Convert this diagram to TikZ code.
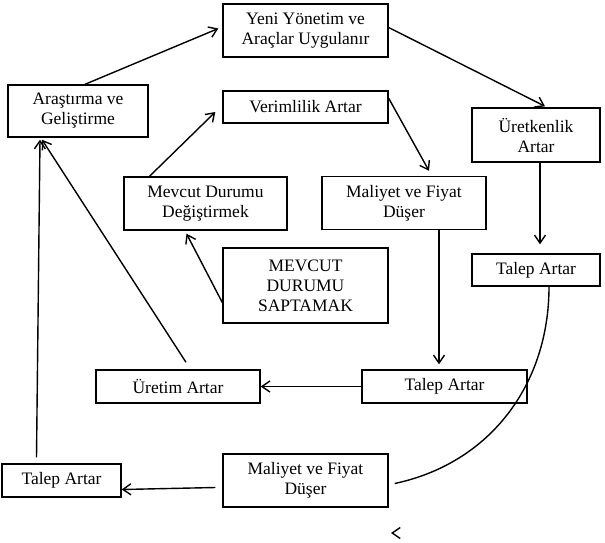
\documentclass[tikz,border=0pt]{standalone}
\usepackage{fontspec}
\setmainfont{Liberation Serif}
\usetikzlibrary{arrows.meta}
\tikzset{
  box/.style={draw, shape=rectangle, line width=1.4pt, align=center, inner sep=1pt,
    font=\fontsize{17.5}{20}\selectfont},
  tall/.style={box, minimum width=165pt, minimum height=53pt},
  flat/.style={box, minimum width=165pt, minimum height=33pt},
  link/.style={line width=1.4pt},
  >={Straight Barb[length=8pt,width=11pt]},
}
\begin{document}
\begin{tikzpicture}[x=1pt, y=-1pt]
\useasboundingbox (0,0) rectangle (605,542);
\node (yeni) [tall] at (305.5,30.5) {Yeni Yönetim ve\\Araçlar Uygulanır};
\node (arge) [box, minimum width=140pt, minimum height=52pt] at (78,111) {Araştırma ve\\Geliştirme};
\node (verim) [box, minimum width=165pt, minimum height=32pt] at (305.5,107) {Verimlilik Artar};
\node (uretken) [box, minimum width=128pt, minimum height=54pt] at (536,135) {Üretkenlik\\Artar};
\node (degis) [tall, minimum width=163pt] at (205.5,203.5) {Mevcut Durumu\\Değiştirmek};
\node (mal1) [tall, minimum width=164pt] at (404,203) {Maliyet ve Fiyat\\Düşer};
\node (sapta) [box, minimum width=165pt, minimum height=75pt] at (305.5,285.5) {MEVCUT\\DURUMU\\SAPTAMAK};
\node (talep1) [box, minimum width=128pt, minimum height=32pt] at (536,270) {Talep Artar};
\node (uretim) [flat, minimum width=164pt] at (178,386.5) {Üretim Artar};
\node (talep2) [flat] at (444.5,386.5) {Talep Artar};
\node (mal2) [tall] at (305.5,480.5) {Maliyet ve Fiyat\\Düşer};
\node (talep3) [box, minimum width=119pt, minimum height=33pt] at (61.5,480.5) {Talep Artar};
\coordinate (stray) at (391,533);

\draw[->, link] ([xshift=7pt]arge.north) -- ([xshift=-4pt,yshift=2pt]yeni.west);
\draw[->, link] ([yshift=3pt]yeni.east) -- ([xshift=9pt,yshift=1pt]uretken.north);
\draw[->, link] ([xshift=4pt]uretken.south) -- ([xshift=4pt,yshift=9pt]talep1.north);
\draw[link] ([xshift=13pt]talep1.south) to[out=-90, in=12] ([xshift=6pt,yshift=-3pt]mal2.east);
\draw[->, link] (talep2.west) -- (uretim.east);
\draw[->, link] ([xshift=35pt]mal1.south) -- ([xshift=35pt,yshift=5pt]mal1.south |- talep2.north);
\draw[->, link] ([yshift=-8pt]verim.north east) -- ([xshift=25pt,yshift=5pt]mal1.north);
\draw[->, link] ([xshift=-56pt]degis.north) -- ([xshift=-7pt,yshift=-5pt]verim.west);
\draw[->, link] ([yshift=-17pt]sapta.west) -- ([xshift=-19pt,yshift=-3pt]degis.south);
\draw[->, link] ([xshift=8pt,yshift=7pt]uretim.north) -- ([xshift=-36pt,yshift=-2pt]arge.south);
\draw[->, link] ([xshift=-25pt,yshift=6pt]talep3.north) -- ([xshift=-38pt,yshift=-2pt]arge.south);
\draw[->, link] ([xshift=-7pt,yshift=-7pt]mal2.west) -- ([yshift=-9pt]talep3.east);
\draw[<-, link] (stray) -- ++(1,0);
\end{tikzpicture}
\end{document}
